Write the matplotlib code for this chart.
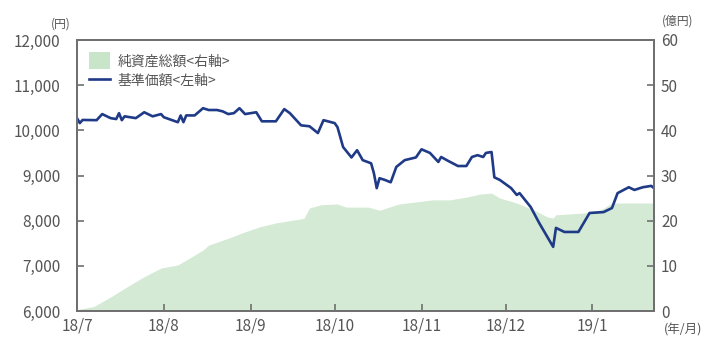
import matplotlib
matplotlib.use("Agg")
import matplotlib.pyplot as plt
from matplotlib.patches import Patch
from matplotlib.lines import Line2D
import pandas as pd

plt.rcParams['font.family'] = ['Noto Sans CJK JP', 'DejaVu Sans']

# 基準価額 (left axis, 円)
nav_dates = ["2018-07-01", "2018-07-02", "2018-07-03", "2018-07-08", "2018-07-10", "2018-07-13",
             "2018-07-15", "2018-07-16", "2018-07-17", "2018-07-18", "2018-07-22", "2018-07-25",
             "2018-07-28", "2018-07-31", "2018-08-01", "2018-08-06", "2018-08-07", "2018-08-08",
             "2018-08-09", "2018-08-12", "2018-08-15", "2018-08-17", "2018-08-20", "2018-08-22",
             "2018-08-24", "2018-08-26", "2018-08-28", "2018-08-30", "2018-09-03", "2018-09-05",
             "2018-09-10", "2018-09-13", "2018-09-15", "2018-09-19", "2018-09-22", "2018-09-25",
             "2018-09-27", "2018-10-01", "2018-10-02", "2018-10-04", "2018-10-07", "2018-10-09",
             "2018-10-11", "2018-10-14", "2018-10-15", "2018-10-16", "2018-10-17", "2018-10-19",
             "2018-10-21", "2018-10-23", "2018-10-26", "2018-10-30", "2018-11-01", "2018-11-04",
             "2018-11-07", "2018-11-08", "2018-11-10", "2018-11-14", "2018-11-17", "2018-11-19",
             "2018-11-21", "2018-11-23", "2018-11-24", "2018-11-26", "2018-11-27", "2018-11-29",
             "2018-12-03", "2018-12-05", "2018-12-06", "2018-12-10", "2018-12-13", "2018-12-18",
             "2018-12-19", "2018-12-22", "2018-12-27", "2018-12-31", "2019-01-05", "2019-01-08",
             "2019-01-10", "2019-01-14", "2019-01-16", "2019-01-19", "2019-01-22", "2019-01-23"]
nav_values = [10270, 10160, 10230, 10225, 10360, 10270,
              10250, 10380, 10225, 10310, 10270, 10400,
              10310, 10360, 10290, 10180, 10330, 10180,
              10330, 10330, 10490, 10450, 10450, 10420,
              10360, 10380, 10490, 10360, 10400, 10200,
              10200, 10470, 10380, 10110, 10090, 9940,
              10225, 10160, 10070, 9630, 9400, 9560,
              9340, 9270, 9050, 8720, 8940, 8900,
              8850, 9190, 9340, 9400, 9580, 9500,
              9300, 9410, 9340, 9210, 9210, 9410,
              9450, 9410, 9500, 9520, 8960, 8900,
              8720, 8570, 8610, 8300, 7950, 7420,
              7840, 7750, 7750, 8170, 8190, 8280,
              8610, 8740, 8680, 8740, 8770, 8720]

# 純資産総額 (right axis, 億円)
aum_dates = ["2018-07-01", "2018-07-07", "2018-07-13", "2018-07-19", "2018-07-25", "2018-07-31",
             "2018-08-06", "2018-08-11", "2018-08-15", "2018-08-17", "2018-08-24", "2018-08-29",
             "2018-09-04", "2018-09-10", "2018-09-16", "2018-09-20", "2018-09-22", "2018-09-26",
             "2018-10-02", "2018-10-05", "2018-10-13", "2018-10-17", "2018-10-24", "2018-11-05",
             "2018-11-11", "2018-11-17", "2018-11-22", "2018-11-26", "2018-11-29", "2018-12-05",
             "2018-12-11", "2018-12-16", "2018-12-18", "2018-12-19", "2018-12-29", "2019-01-04",
             "2019-01-08", "2019-01-16", "2019-01-23"]
aum_values = [0.3, 1.0, 3.1, 5.4, 7.6, 9.5,
              10.2, 12.0, 13.5, 14.6, 16.1, 17.3,
              18.6, 19.5, 20.1, 20.5, 22.8, 23.5,
              23.7, 23.0, 23.0, 22.3, 23.7, 24.6,
              24.6, 25.2, 25.9, 26.1, 25.0, 23.9,
              22.4, 20.8, 20.6, 21.3, 21.7, 22.4,
              23.9, 23.9, 23.9]

month_ticks = ["2018-07-01", "2018-08-01", "2018-09-01", "2018-10-01", "2018-11-01",
               "2018-12-01", "2019-01-01"]
month_labels = ["18/7", "18/8", "18/9", "18/10", "18/11", "18/12", "19/1"]
left_ticks = [6000, 7000, 8000, 9000, 10000, 11000, 12000]
right_ticks = [0, 10, 20, 30, 40, 50, 60]

nav_x = pd.to_datetime(nav_dates)
aum_x = pd.to_datetime(aum_dates)
tick_x = pd.to_datetime(month_ticks)

TXT = '#555555'
SPINE = '#707070'

fig = plt.figure(figsize=(7.02, 3.42), dpi=100)
ax1 = fig.add_axes([77 / 702, 31 / 342, 577 / 702, 271 / 342])
ax2 = ax1.twinx()
ax1.set_zorder(ax2.get_zorder() + 1)
ax1.patch.set_visible(False)

ax2.fill_between(aum_x, aum_values, 0, color='#d4ead5', linewidth=0)
ax1.plot(nav_x, nav_values, color='#1f3a86', linewidth=1.9)

xmin, xmax = pd.Timestamp("2018-07-01"), pd.Timestamp("2019-01-23")
ax1.set_xlim(xmin, xmax)
ax1.set_ylim(6000, 12000)
ax2.set_ylim(0, 60)

ax1.set_xticks(tick_x)
ax1.set_xticklabels(month_labels)
ax1.set_yticks(left_ticks)
ax1.set_yticklabels([f"{v:,}" for v in left_ticks])
ax2.set_yticks(right_ticks)
ax2.set_yticklabels([str(v) for v in right_ticks])

for ax in (ax1, ax2):
    for s in ax.spines.values():
        s.set_color(SPINE)
        s.set_linewidth(1.4)
ax1.tick_params(axis='y', direction='in', length=5, width=1.2, color=SPINE,
                labelsize=11, labelcolor=TXT, pad=12)
ax1.tick_params(axis='x', direction='in', length=5, width=1.2, color=SPINE,
                labelsize=11, labelcolor=TXT, pad=5)
ax2.tick_params(axis='y', direction='in', length=5, width=1.2, color=SPINE,
                labelsize=11, labelcolor=TXT, pad=5)

fig.text(61 / 702, 1 - 24 / 342, "(円)", ha='center', va='center', fontsize=8.5, color=TXT)
fig.text(678 / 702, 1 - 21 / 342, "(億円)", ha='center', va='center', fontsize=8.5, color=TXT)
fig.text(683 / 702, 1 - 330 / 342, "(年/月)", ha='center', va='center', fontsize=9, color=TXT)

handles = [Patch(facecolor='#c8e4c9', edgecolor='none'),
           Line2D([0], [0], color='#1f3a86', linewidth=1.9)]
labels = ["純資産総額<右軸>", "基準価額<左軸>"]
ax1.legend(handles, labels, loc='upper left', bbox_to_anchor=(0.012, 0.975), frameon=False,
           fontsize=10, labelcolor=TXT, handlelength=1.5, handleheight=1.5,
           handletextpad=0.5, labelspacing=0.2, borderaxespad=0)

fig.savefig("out.png", dpi=100)
